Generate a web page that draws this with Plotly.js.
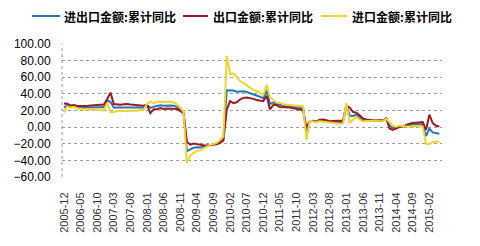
<!DOCTYPE html>
<html>
<head>
<meta charset="utf-8">
<script src="https://cdn.plot.ly/plotly-3.0.1.min.js"></script>
<style>html,body{margin:0;padding:0;background:#fff}#chart{width:480px;height:246px}</style>
</head>
<body>
<div id="chart"></div>
<script>
// Months 2005-12 .. 2015-05
const months = [
"2005-12",
"2006-01","2006-02","2006-03","2006-04","2006-05","2006-06","2006-07","2006-08","2006-09","2006-10","2006-11","2006-12",
"2007-01","2007-02","2007-03","2007-04","2007-05","2007-06","2007-07","2007-08","2007-09","2007-10","2007-11","2007-12",
"2008-01","2008-02","2008-03","2008-04","2008-05","2008-06","2008-07","2008-08","2008-09","2008-10","2008-11","2008-12",
"2009-01","2009-02","2009-03","2009-04","2009-05","2009-06","2009-07","2009-08","2009-09","2009-10","2009-11","2009-12",
"2010-01","2010-02","2010-03","2010-04","2010-05","2010-06","2010-07","2010-08","2010-09","2010-10","2010-11","2010-12",
"2011-01","2011-02","2011-03","2011-04","2011-05","2011-06","2011-07","2011-08","2011-09","2011-10","2011-11","2011-12",
"2012-01","2012-02","2012-03","2012-04","2012-05","2012-06","2012-07","2012-08","2012-09","2012-10","2012-11","2012-12",
"2013-01","2013-02","2013-03","2013-04","2013-05","2013-06","2013-07","2013-08","2013-09","2013-10","2013-11","2013-12",
"2014-01","2014-02","2014-03","2014-04","2014-05","2014-06","2014-07","2014-08","2014-09","2014-10","2014-11","2014-12",
"2015-01","2015-02","2015-03","2015-04","2015-05"
];

// 进出口金额:累计同比
const totalYoY = [
23.2,
26.6,24.8,25.6,24.1,23.5,23.4,23.6,23.9,23.9,24.0,23.9,23.8,
31.9,30.4,23.3,23.7,23.6,23.8,23.9,23.8,23.6,23.4,23.6,23.5,
27.1,23.1,24.6,25.7,26.2,25.7,26.3,26.1,25.6,24.4,21.1,17.8,
-29.0,-26.7,-24.9,-24.1,-24.6,-23.5,-22.6,-21.3,-20.9,-19.8,-17.3,-13.9,
44.4,44.6,44.1,42.6,43.0,43.1,42.2,40.9,38.9,37.8,36.5,34.7,
44.0,28.0,29.5,28.0,26.6,25.8,25.1,25.0,24.6,23.9,23.3,22.5,
-7.8,7.3,7.3,6.6,8.0,8.0,7.1,6.2,6.2,6.3,5.8,6.2,
26.8,13.8,13.4,15.0,12.0,8.6,8.3,8.3,7.9,7.8,7.7,7.6,
10.3,2.0,-1.0,-0.4,0.9,1.2,1.9,2.4,3.3,3.4,3.4,3.4,
-10.8,-1.8,-6.3,-7.5,-8.0
];

// 出口金额:累计同比
const exportYoY = [
28.4,
28.1,25.9,26.6,25.4,25.3,25.2,25.3,26.0,26.5,27.0,27.2,27.2,
33.8,41.5,27.8,27.3,27.0,27.6,27.9,27.1,26.9,26.5,26.1,25.7,
26.6,16.8,21.4,21.5,22.9,21.9,22.4,22.4,22.3,21.9,19.2,17.2,
-17.5,-21.1,-19.7,-20.5,-21.8,-21.8,-22.0,-21.3,-21.3,-20.5,-18.8,-16.0,
21.0,31.4,28.7,29.9,33.2,35.2,35.6,35.0,34.0,32.7,32.3,31.3,
37.7,21.3,26.5,26.5,24.1,24.0,23.4,23.6,22.7,22.0,21.1,20.3,
-0.5,6.9,7.6,6.9,8.8,9.2,8.4,7.1,7.4,7.8,7.3,7.9,
25.0,23.6,18.4,17.4,14.4,10.4,9.3,8.9,8.1,7.8,8.3,7.9,
10.6,-1.6,-3.4,-1.2,0.0,0.9,3.0,4.1,5.1,5.5,5.7,6.1,
-3.3,15.0,4.9,1.7,0.7
];

// 进口金额:累计同比
const importYoY = [
17.6,
24.9,23.5,24.4,22.6,21.5,21.3,21.6,21.3,20.7,20.2,19.9,20.0,
29.5,17.6,18.2,19.4,19.6,19.4,19.2,20.0,19.7,19.7,20.6,20.8,
27.7,30.9,28.6,30.9,30.1,30.6,31.0,30.8,29.6,27.4,23.4,18.5,
-43.1,-34.2,-30.9,-28.5,-28.0,-25.4,-23.3,-21.1,-20.4,-19.0,-15.5,-11.2,
85.5,63.6,64.6,59.9,55.4,53.2,50.3,47.6,44.5,43.4,41.2,38.7,
51.0,36.0,32.6,29.6,29.3,27.6,27.0,26.6,26.7,26.0,25.6,24.9,
-15.3,7.7,6.9,6.3,7.2,6.7,5.8,5.2,4.9,4.8,4.1,4.3,
28.8,5.0,8.4,12.4,9.3,6.7,7.3,7.6,7.7,7.8,7.0,7.3,
10.0,6.0,1.6,0.5,1.8,1.5,0.6,0.5,1.3,1.1,0.7,0.4,
-19.9,-20.5,-17.6,-17.3,-17.6
];

const seriesNames = ["进出口金额:累计同比","出口金额:累计同比","进口金额:累计同比"];
const tickLabels = months.filter((m, i) => i % 5 === 0);

const colors = ["#2676BA", "#9C1B22", "#F3D42C"];
const allSeries = [totalYoY, exportYoY, importYoY];

const traces = allSeries.map((ys, k) => ({
  type: "scatter",
  mode: "lines",
  name: seriesNames[k],
  x: months,
  y: ys,
  line: {color: colors[k], width: 2}
}));

// Manual legend (paper coords; plot spans x 62..442px, y 44..177px)
const W = 380, H = 133, L = 62, B = 177;
const px = v => (v - L) / W;
const py = v => (B - v) / H;
const legendY = 16;
const legendItems = [
  {x0: 32, x1: 60, tx: 62},
  {x0: 183, x1: 208, tx: 211},
  {x0: 321, x1: 347, tx: 350}
];
const shapes = [
  {type: "line", xref: "paper", yref: "paper", x0: 0, x1: 0, y0: 0, y1: 1,
   line: {color: "#9a9a9a", width: 1, dash: "dot"}}
];
const annotations = [];
legendItems.forEach((it, k) => {
  shapes.push({type: "line", xref: "paper", yref: "paper",
    x0: px(it.x0), x1: px(it.x1), y0: py(legendY), y1: py(legendY),
    line: {color: colors[k], width: 2}});
  annotations.push({xref: "paper", yref: "paper", x: px(it.tx), y: py(legendY),
    xanchor: "left", yanchor: "middle", showarrow: false, text: seriesNames[k],
    font: {family: "Noto Sans CJK SC, sans-serif", size: 12, color: "#000", weight: "bold"}});
});

const layout = {
  width: 480, height: 246,
  margin: {l: 62, r: 38, t: 44, b: 69},
  paper_bgcolor: "#fff",
  plot_bgcolor: "#fff",
  font: {family: "Liberation Sans, Arial, sans-serif", color: "#000"},
  showlegend: false,
  xaxis: {
    type: "category",
    range: [-0.6, 113.8],
    tickmode: "array",
    tickvals: tickLabels,
    ticktext: tickLabels,
    tickangle: -90,
    ticks: "outside", ticklen: 10, tickcolor: "rgba(0,0,0,0)",
    tickfont: {size: 11, color: "#333"},
    showgrid: false, zeroline: false, showline: false
  },
  yaxis: {
    range: [-60, 100],
    tickmode: "linear", tick0: -60, dtick: 20,
    tickformat: ".2f",
    ticks: "outside", ticklen: 8, tickcolor: "rgba(0,0,0,0)",
    tickfont: {size: 12, color: "#000"},
    showgrid: true, gridcolor: "#9a9a9a", griddash: "dot", gridwidth: 1,
    zeroline: false, showline: false
  },
  shapes: shapes,
  annotations: annotations
};

Plotly.newPlot("chart", traces, layout, {displayModeBar: false, staticPlot: true});
</script>
</body>
</html>
